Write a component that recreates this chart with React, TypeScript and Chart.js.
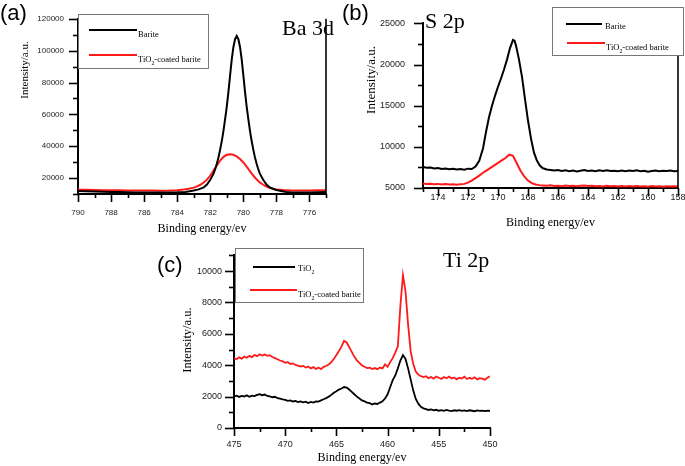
import React, { useEffect, useRef } from 'react';
import { Chart, registerables } from 'chart.js';

Chart.register(...registerables);

// ---------------- DATA ----------------
// (a) Ba 3d
const aBariteE = [790, 789.5, 789, 788.5, 788, 787.5, 787, 786.5, 786, 785.5, 785, 784.5, 784, 783.5, 783.25, 783, 782.7, 782.4, 782.2, 782, 781.8, 781.7, 781.6, 781.5, 781.4, 781.3, 781.2, 781.1, 781, 780.9, 780.8, 780.7, 780.6, 780.5, 780.4, 780.3, 780.2, 780.1, 780, 779.9, 779.8, 779.7, 779.6, 779.5, 779.4, 779.3, 779.2, 779.1, 779, 778.8, 778.6, 778.4, 778.1, 777.8, 777.4, 777, 776.5, 776, 775.5, 775];
const aBariteI = [11900, 11750, 11600, 11450, 11300, 11200, 11100, 11000, 10950, 10900, 10900, 10950, 11050, 11300, 11700, 12200, 12900, 14100, 15900, 18900, 22800, 25700, 29200, 33100, 38000, 43400, 49800, 57150, 65000, 74300, 84650, 94500, 102300, 107200, 109200, 107200, 102300, 94500, 84650, 74300, 65000, 57150, 49800, 43400, 38000, 33100, 29200, 25700, 22800, 18900, 15900, 14100, 12800, 12000, 11300, 11000, 10900, 10900, 11100, 11300];
const aCoatedE = [790, 789.5, 789, 788.5, 788, 787.5, 787, 786.5, 786, 785.5, 785, 784.5, 784, 783.6, 783.3, 783, 782.8, 782.6, 782.4, 782.2, 782, 781.8, 781.6, 781.4, 781.2, 781, 780.8, 780.6, 780.4, 780.2, 780, 779.8, 779.6, 779.4, 779.2, 779, 778.8, 778.6, 778.4, 778.2, 778, 777.6, 777.2, 776.8, 776.5, 776, 775.5, 775];
const aCoatedI = [12700, 12600, 12500, 12400, 12350, 12300, 12250, 12200, 12150, 12150, 12100, 12150, 12400, 12800, 13300, 14000, 14800, 15800, 17200, 19000, 21600, 24800, 28000, 31000, 33300, 34600, 35000, 34600, 33600, 32000, 29800, 27200, 24300, 21600, 19200, 17300, 15800, 14700, 13900, 13300, 12900, 12500, 12300, 12200, 12150, 12250, 12300, 12400];

// (b) S 2p
const bBariteE = [175, 174.75, 174.5, 174.25, 174, 173.75, 173.5, 173.25, 173, 172.75, 172.5, 172.25, 172, 171.75, 171.5, 171.25, 171, 170.8, 170.6, 170.4, 170.2, 170, 169.8, 169.6, 169.4, 169.2, 169, 168.9, 168.8, 168.6, 168.4, 168.2, 168, 167.8, 167.6, 167.4, 167.2, 167, 166.75, 166.5, 166.25, 166, 165.75, 165.5, 165.25, 165, 164.75, 164.5, 164.25, 164, 163.75, 163.5, 163.25, 163, 162.75, 162.5, 162.25, 162, 161.75, 161.5, 161.25, 161, 160.75, 160.5, 160.25, 160, 159.75, 159.5, 159.25, 159, 158.75, 158.5, 158.25, 158];
const bBariteI = [7550, 7450, 7500, 7380, 7420, 7300, 7380, 7280, 7350, 7250, 7300, 7220, 7350, 7300, 7600, 8300, 9800, 11800, 13600, 15000, 16200, 17300, 18300, 19400, 20600, 22000, 23000, 22900, 22300, 20600, 18500, 15800, 13200, 11000, 9300, 8300, 7700, 7400, 7250, 7200, 7120, 7180, 7080, 7150, 7050, 7120, 7020, 7100, 7180, 7060, 7120, 7040, 7150, 7080, 7160, 7060, 7100, 7030, 7120, 7050, 7130, 7060, 7140, 7040, 7100, 6980, 7070, 7120, 7040, 7100, 7060, 7130, 7050, 7080];
const bCoatedE = [175, 174.75, 174.5, 174.25, 174, 173.75, 173.5, 173.25, 173, 172.75, 172.5, 172.25, 172, 171.75, 171.5, 171.25, 171, 170.75, 170.5, 170.25, 170, 169.75, 169.5, 169.25, 169, 168.75, 168.5, 168.25, 168, 167.75, 167.5, 167.25, 167, 166.75, 166.5, 166.25, 166, 165.75, 165.5, 165.25, 165, 164.75, 164.5, 164.25, 164, 163.75, 163.5, 163.25, 163, 162.75, 162.5, 162.25, 162, 161.75, 161.5, 161.25, 161, 160.75, 160.5, 160.25, 160, 159.75, 159.5, 159.25, 159, 158.75, 158.5, 158.25, 158];
const bCoatedI = [5550, 5480, 5520, 5450, 5500, 5430, 5480, 5420, 5460, 5400, 5470, 5500, 5650, 5900, 6200, 6500, 6850, 7150, 7450, 7750, 8050, 8350, 8650, 9050, 8900, 8000, 7100, 6400, 5900, 5600, 5420, 5350, 5300, 5260, 5320, 5240, 5280, 5220, 5300, 5230, 5270, 5200, 5260, 5310, 5230, 5280, 5210, 5250, 5190, 5260, 5200, 5240, 5180, 5250, 5190, 5230, 5170, 5240, 5180, 5220, 5160, 5230, 5180, 5210, 5150, 5220, 5170, 5200, 5180];

// (c) Ti 2p
const cE = [475, 474.75, 474.5, 474.25, 474, 473.75, 473.5, 473.25, 473, 472.75, 472.5, 472.25, 472, 471.75, 471.5, 471.25, 471, 470.75, 470.5, 470.25, 470, 469.75, 469.5, 469.25, 469, 468.75, 468.5, 468.25, 468, 467.75, 467.5, 467.25, 467, 466.75, 466.5, 466.25, 466, 465.75, 465.5, 465.25, 465, 464.75, 464.5, 464.25, 464, 463.75, 463.5, 463.25, 463, 462.75, 462.5, 462.25, 462, 461.75, 461.5, 461.25, 461, 460.75, 460.5, 460.25, 460, 459.75, 459.5, 459.25, 459, 458.75, 458.5, 458.25, 458, 457.75, 457.5, 457.25, 457, 456.75, 456.5, 456.25, 456, 455.75, 455.5, 455.25, 455, 454.75, 454.5, 454.25, 454, 453.75, 453.5, 453.25, 453, 452.75, 452.5, 452.25, 452, 451.75, 451.5, 451.25, 451, 450.75, 450.5, 450.25, 450];
const cTiO2I = [2000, 2060, 1980, 2050, 2010, 2080, 1990, 2060, 2030, 2110, 2150, 2090, 2130, 2040, 2010, 1960, 1990, 1900, 1870, 1820, 1790, 1730, 1760, 1690, 1720, 1650, 1700, 1640, 1680, 1590, 1660, 1620, 1700, 1680, 1760, 1830, 1900, 2000, 2110, 2250, 2340, 2450, 2520, 2610, 2580, 2450, 2300, 2150, 2000, 1880, 1760, 1700, 1620, 1580, 1500, 1560, 1530, 1620, 1700, 1880, 2150, 2600, 3050, 3350, 3800, 4300, 4650, 4400, 3800, 3100, 2400, 1850, 1550, 1350, 1250, 1200, 1150, 1180, 1120, 1160, 1100, 1140, 1090, 1150, 1110, 1080, 1130, 1100, 1140, 1090, 1120, 1080, 1130, 1100, 1070, 1120, 1090, 1110, 1080, 1100, 1090];
const cCoatedI = [4450, 4380, 4500, 4420, 4560, 4480, 4600, 4520, 4650, 4580, 4700, 4620, 4680, 4600, 4640, 4520, 4450, 4380, 4300, 4250, 4150, 4200, 4080, 4120, 4020, 3980, 3920, 3960, 3850, 3920, 3800, 3880, 3760, 3850, 3750, 3900, 3950, 4050, 4200, 4400, 4650, 4900, 5200, 5550, 5450, 5150, 4850, 4550, 4300, 4150, 3980, 3900, 3820, 3850, 3760, 3820, 3750, 3850, 3800, 4050, 3900, 4200, 4450, 4800, 5200, 7800, 9750, 8700, 6600, 4900, 4100, 3600, 3400, 3300, 3250, 3300, 3180, 3250, 3150, 3280, 3200, 3120, 3250, 3170, 3280, 3150, 3220, 3100, 3200, 3150, 3270, 3120, 3200, 3140, 3230, 3100, 3180, 3150, 3080, 3200, 3300];

const xTitle = 'Binding energy/ev';
const yTitle = 'Intensity/a.u.';

// ---------------- STYLE ----------------
const SERIF = '"Liberation Serif", "Times New Roman", Times, serif';
const SANS = '"Liberation Sans", Arial, Helvetica, sans-serif';
const BLACK = '#000000';
const RED = '#ff1a1a';

const toPoints = (xs: number[], ys: number[]) => xs.map((x, i) => ({ x, y: ys[i] }));
const isMult = (v: number, m: number) => Math.abs(v / m - Math.round(v / m)) < 1e-6;

const PANELS: any[] = [
  {
    key: 'a',
    box: { left: 0, top: 0, width: 340, height: 238 },
    padding: { left: 0, right: 7, top: 14, bottom: 0 },
    yAxisW: 78, xAxisH: 44,
    x: { min: 775, max: 790, step: 1, major: 2, labelPad: 14, font: 8 },
    y: { min: 10000, max: 120000, step: 10000, major: 20000, labelPad: 14, font: 8 },
    xTitlePad: 1.8,
    yTitle: { x: 25, y: 70, size: 11 },
    tag: { text: '(a)', x: 0, y: 20 },
    element: { text: 'Ba 3d', x: 282, y: 35 },
    legend: { x: 78.5, y: 14.5, w: 130, h: 54, size: 8.5, items: [
      { x1: 89, x2: 137, ly: 30, tx: 138, ty: 34.5 },
      { x1: 89, x2: 137, ly: 55, tx: 138, ty: 60 },
    ] },
    rightBorder: true,
    lineWidth: 2,
    series: [
      { label: 'Barite', xs: aBariteE, ys: aBariteI, color: BLACK },
      { label: 'TiO₂-coated barite', xs: aCoatedE, ys: aCoatedI, color: RED },
    ],
  },
  {
    key: 'b',
    box: { left: 340, top: 0, width: 350, height: 238 },
    padding: { left: 0, right: 12, top: 7, bottom: 0 },
    yAxisW: 83, xAxisH: 50,
    x: { min: 158, max: 175, step: 1, major: 2, labelPad: 4.5, font: 9 },
    y: { min: 5000, max: 25000, step: 2500, major: 5000, labelPad: 18, font: 9 },
    xTitlePad: 7.8,
    yTitle: { x: 32, y: 80, size: 13 },
    tag: { text: '(b)', x: 2, y: 20 },
    element: { text: 'S 2p', x: 85, y: 28 },
    legend: { x: 212.5, y: 7.5, w: 131, h: 48, size: 8.5, items: [
      { x1: 226, x2: 262, ly: 24, tx: 265, ty: 27 },
      { x1: 227, x2: 265, ly: 43, tx: 266, ty: 48 },
    ] },
    rightBorder: true,
    lineWidth: 2,
    series: [
      { label: 'Barite', xs: bBariteE, ys: bBariteI, color: BLACK },
      { label: 'TiO₂-coated barite', xs: bCoatedE, ys: bCoatedI, color: RED },
    ],
  },
  {
    key: 'c',
    box: { left: 150, top: 238, width: 390, height: 228 },
    padding: { left: 0, right: 50, top: 9, bottom: 0 },
    yAxisW: 84, xAxisH: 38,
    x: { min: 450, max: 475, step: 2.5, major: 5, labelPad: 11.5, font: 9 },
    y: { min: 0, max: 11000, step: 1000, major: 2000, labelPad: 12, font: 9 },
    xTitlePad: 0.8,
    yTitle: { x: 38, y: 102, size: 12.5 },
    tag: { text: '(c)', x: 7, y: 34 },
    element: { text: 'Ti 2p', x: 293, y: 29 },
    legend: { x: 85.5, y: 10.5, w: 128, h: 54, size: 8.5, items: [
      { x1: 103, x2: 145, ly: 29, tx: 148, ty: 31 },
      { x1: 100, x2: 147, ly: 52, tx: 148, ty: 57 },
    ] },
    rightBorder: false,
    lineWidth: 1.8,
    series: [
      { label: 'TiO₂', xs: cE, ys: cTiO2I, color: BLACK },
      { label: 'TiO₂-coated barite', xs: cE, ys: cCoatedI, color: RED },
    ],
  },
];

function drawRich(ctx: CanvasRenderingContext2D, text: string, x: number, y: number, size: number) {
  const parts = text.split('₂');
  let cx = x;
  ctx.textAlign = 'left';
  ctx.textBaseline = 'middle';
  parts.forEach((part, i) => {
    ctx.font = `${size}px ${SERIF}`;
    ctx.fillText(part, cx, y);
    cx += ctx.measureText(part).width;
    if (i < parts.length - 1) {
      ctx.font = `${size * 0.7}px ${SERIF}`;
      ctx.fillText('2', cx, y + size * 0.35);
      cx += ctx.measureText('2').width;
    }
  });
}

function makeDecor(p: any) {
  return {
    id: 'decor' + p.key,
    afterDatasetsDraw(chart: any) {
      const ctx: CanvasRenderingContext2D = chart.ctx;
      const { left, right, top, bottom } = chart.chartArea;
      const xs = chart.scales.x;
      const ys = chart.scales.y;
      ctx.save();
      ctx.strokeStyle = '#000';
      ctx.lineWidth = 1.6;
      xs.ticks.forEach((t: any) => {
        const px = Math.round(xs.getPixelForValue(t.value)) + 0.5;
        const len = isMult(t.value, p.x.major) ? 8 : 4;
        ctx.beginPath();
        ctx.moveTo(px, bottom);
        ctx.lineTo(px, bottom + len);
        ctx.stroke();
      });
      ys.ticks.forEach((t: any) => {
        const py = Math.round(ys.getPixelForValue(t.value)) + 0.5;
        const len = isMult(t.value, p.y.major) ? 9 : 5;
        ctx.beginPath();
        ctx.moveTo(left, py);
        ctx.lineTo(left - len, py);
        ctx.stroke();
      });
      if (p.rightBorder) {
        ctx.lineWidth = 1.6;
        ctx.beginPath();
        ctx.moveTo(right, top);
        ctx.lineTo(right, bottom);
        ctx.stroke();
      }
      // y-axis title
      ctx.save();
      ctx.translate(p.yTitle.x, p.yTitle.y);
      ctx.rotate(-Math.PI / 2);
      ctx.font = `${p.yTitle.size}px ${SERIF}`;
      ctx.fillStyle = '#000';
      ctx.textAlign = 'center';
      ctx.textBaseline = 'middle';
      ctx.fillText(yTitle, 0, 0);
      ctx.restore();
      // panel tag and element label
      ctx.fillStyle = '#000';
      ctx.textBaseline = 'alphabetic';
      ctx.textAlign = 'left';
      ctx.font = `22px ${SANS}`;
      ctx.fillText(p.tag.text, p.tag.x, p.tag.y);
      ctx.font = `22px ${SERIF}`;
      ctx.fillText(p.element.text, p.element.x, p.element.y);
      // legend
      const lg = p.legend;
      ctx.fillStyle = '#fff';
      ctx.fillRect(lg.x, lg.y, lg.w, lg.h);
      ctx.strokeStyle = '#777';
      ctx.lineWidth = 1;
      ctx.strokeRect(lg.x, lg.y, lg.w, lg.h);
      chart.data.datasets.forEach((ds: any, i: number) => {
        const it = lg.items[i];
        ctx.strokeStyle = ds.borderColor;
        ctx.lineWidth = 2;
        ctx.beginPath();
        ctx.moveTo(it.x1, it.ly);
        ctx.lineTo(it.x2, it.ly);
        ctx.stroke();
        ctx.fillStyle = '#000';
        drawRich(ctx, ds.label, it.tx, it.ty, lg.size);
      });
      ctx.restore();
    },
  };
}

function buildConfig(p: any): any {
  return {
    type: 'line',
    data: {
      datasets: p.series.map((s: any) => ({
        label: s.label,
        data: toPoints(s.xs, s.ys),
        borderColor: s.color,
        backgroundColor: s.color,
        borderWidth: p.lineWidth,
        pointRadius: 0,
        tension: 0,
        fill: false,
      })),
    },
    options: {
      responsive: false,
      maintainAspectRatio: false,
      animation: false,
      events: [],
      layout: { padding: p.padding },
      plugins: { legend: { display: false }, tooltip: { enabled: false }, title: { display: false } },
      scales: {
        x: {
          type: 'linear',
          min: p.x.min,
          max: p.x.max,
          reverse: true,
          afterFit: (s: any) => { s.height = p.xAxisH; },
          grid: { display: false, drawTicks: false },
          border: { display: true, color: '#000', width: 2 },
          ticks: {
            stepSize: p.x.step,
            maxTicksLimit: 1000,
            autoSkip: false,
            maxRotation: 0,
            minRotation: 0,
            padding: p.x.labelPad,
            color: '#222',
            font: { family: SANS, size: p.x.font },
            callback: (v: number) => (isMult(v, p.x.major) ? String(v) : ''),
          },
          title: {
            display: true,
            text: xTitle,
            color: '#000',
            font: { family: SERIF, size: 12 },
            padding: { top: 0, bottom: p.xTitlePad },
          },
        },
        y: {
          type: 'linear',
          min: p.y.min,
          max: p.y.max,
          afterFit: (s: any) => { s.width = p.yAxisW; },
          grid: { display: false, drawTicks: false },
          border: { display: true, color: '#000', width: 2 },
          ticks: {
            stepSize: p.y.step,
            maxTicksLimit: 1000,
            autoSkip: false,
            padding: p.y.labelPad,
            color: '#222',
            font: { family: SANS, size: p.y.font },
            callback: (v: number) => (isMult(v, p.y.major) && v > 0 ? String(v) : (v === 0 && isMult(v, p.y.major) ? '0' : '')),
          },
        },
      },
    },
    plugins: [makeDecor(p)],
  };
}

export default function App() {
  const r0 = useRef<HTMLCanvasElement>(null);
  const r1 = useRef<HTMLCanvasElement>(null);
  const r2 = useRef<HTMLCanvasElement>(null);
  const refs = [r0, r1, r2];

  useEffect(() => {
    const charts = PANELS.map((p, i) => new Chart(refs[i].current as HTMLCanvasElement, buildConfig(p)));
    return () => charts.forEach((c) => c.destroy());
  }, []);

  return (
    <div style={{ position: 'absolute', left: 0, top: 0, width: 685, height: 466, overflow: 'hidden', background: '#fff' }}>
      {PANELS.map((p, i) => (
        <canvas
          key={p.key}
          ref={refs[i]}
          width={p.box.width}
          height={p.box.height}
          style={{ position: 'absolute', left: p.box.left, top: p.box.top, width: p.box.width, height: p.box.height }}
        />
      ))}
    </div>
  );
}
